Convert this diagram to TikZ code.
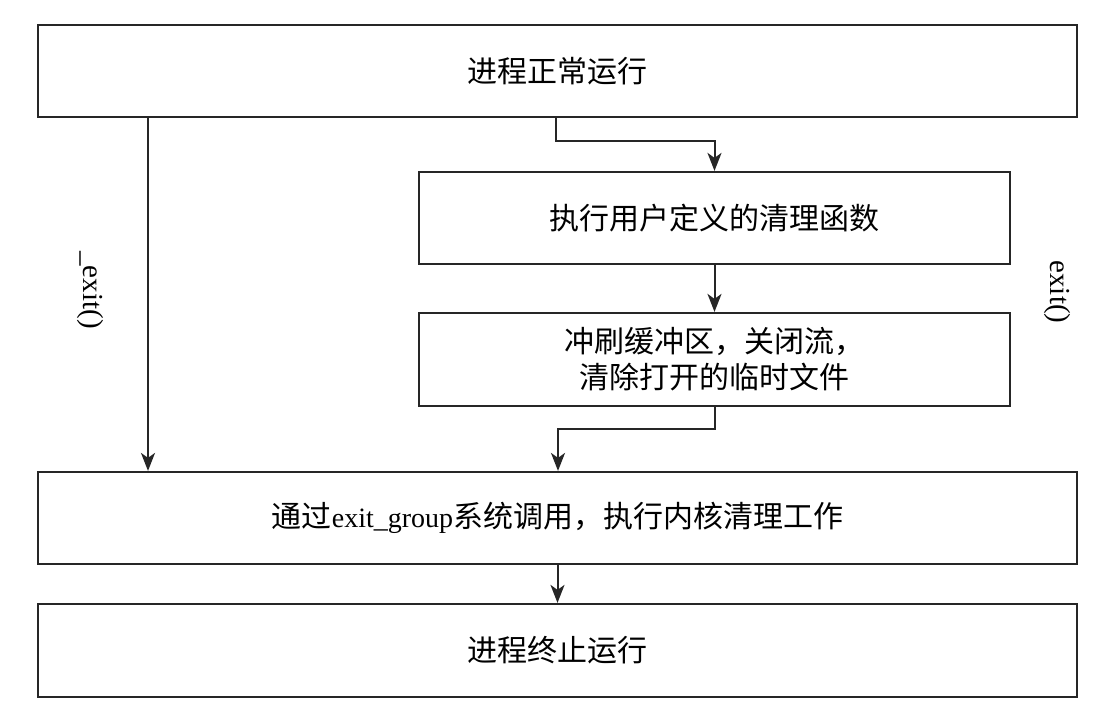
\documentclass[tikz,border=0pt]{standalone}
\usepackage{fontspec}
\setmainfont{Liberation Serif}
\newfontfamily\cjk{Noto Sans CJK SC}
\newfontfamily\lat{Liberation Serif}
\usetikzlibrary{arrows.meta}
\begin{document}
\begin{tikzpicture}[x=1pt,y=-1pt,
  box/.style={draw=black!85,line width=2.2pt,rectangle,inner sep=0pt,
    font=\fontsize{30}{36}\selectfont\cjk,align=center},
  wide/.style={box,minimum width=1039pt},
  narrow/.style={box,minimum width=591pt},
  conn/.style={draw=black!85,line width=2pt,-{Stealth[length=18pt,width=14pt,inset=5pt]}},
  lbl/.style={font=\fontsize{29}{34}\selectfont\lat,rotate=-90,inner sep=0pt}]
\useasboundingbox (0,0) rectangle (1099,720);
\node[wide,minimum height=92pt] (b1) at (557.5,71) {进程正常运行};
\node[narrow,minimum height=92pt] (b2) at (714.5,218) {执行用户定义的清理函数};
\node[narrow,minimum height=93pt] (b3) at (714.5,359.5) {冲刷缓冲区，关闭流，\\清除打开的临时文件};
\node[wide,minimum height=92pt] (b4) at (557.5,518) {通过{\lat\fontsize{28}{30}\selectfont exit\_group}系统调用，执行内核清理工作};
\node[wide,minimum height=93pt] (b5) at (557.5,650.5) {进程终止运行};
\coordinate (lx) at (148,0);
\coordinate (c1) at (556,141);
\coordinate (c2) at (714.5,141);
\coordinate (c3) at (714.5,429);
\coordinate (c4) at (558,429);
\draw[conn] (b1.south -| lx) -- (b4.north -| lx);
\draw[conn] (b1.south -| c1) -- (c1) -- (c2) -- (b2.north);
\draw[conn] (b2.south) -- (b3.north);
\draw[conn] (b3.south) -- (c3) -- (c4) -- (b4.north -| c4);
\draw[conn] (b4.south) -- (b5.north);
\node[lbl] (l1) at (90,290) {\_exit()};
\node[lbl] (l2) at (1057,292) {exit()};
\end{tikzpicture}
\end{document}
